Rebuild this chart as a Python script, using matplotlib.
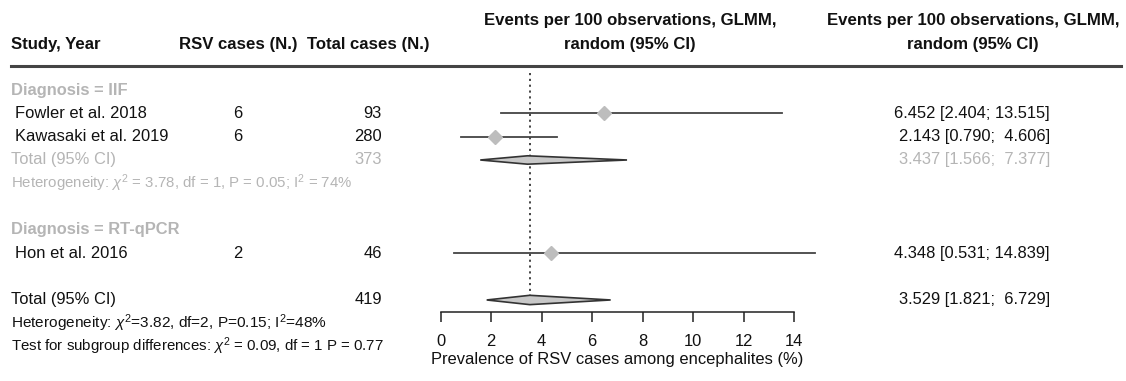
import numpy as np
import matplotlib
matplotlib.use("Agg")
import matplotlib.pyplot as plt
import matplotlib.transforms as mtransforms
from matplotlib.lines import Line2D

plt.rcParams['font.family'] = ['Liberation Sans', 'DejaVu Sans']
plt.rcParams['mathtext.fontset'] = 'custom'
plt.rcParams['mathtext.rm'] = 'Liberation Sans'
plt.rcParams['mathtext.it'] = 'Liberation Sans:italic'

# study data
studies = ["Fowler et al. 2018", "Kawasaki et al. 2019", "Hon et al. 2016"]
rsv_cases = [6, 6, 2]
total_cases = [93, 280, 46]
est = [6.452, 2.143, 4.348]
ci_lo = [2.404, 0.790, 0.531]
ci_hi = [13.515, 4.606, 14.839]
study_rows = [1, 2, 7]

# subgroup IIF pooled
iif_total = 373
iif_est, iif_lo, iif_hi = 3.437, 1.566, 7.377
# overall pooled
all_total = 419
all_est, all_lo, all_hi = 3.529, 1.821, 6.729

xticks = [0, 2, 4, 6, 8, 10, 12, 14]

W, H = 1126, 381
fig = plt.figure(figsize=(W / 100, H / 100), dpi=100)

# rows: pixel y = 90 + 23.33*r
row_px = 23.33
def px2frac_y(p):
    return 1 - p / H

ax_top, ax_bot = 90 - row_px, 311.7
ax_left, ax_right = 440.7, 794.3
ax = fig.add_axes([ax_left / W, px2frac_y(ax_bot), (ax_right - ax_left) / W, (ax_bot - ax_top) / H])
ax.set_xlim(0, 14)
ax.set_ylim((ax_bot - 90) / row_px, -1)
for s in ['top', 'right', 'left']:
    ax.spines[s].set_visible(False)
ax.spines['bottom'].set_color('#222222')
ax.spines['bottom'].set_linewidth(1.1)
ax.set_yticks([])
ax.set_xticks(xticks)
ax.tick_params(axis='x', length=7, width=1.1, color='#222222', pad=9, labelsize=11.9, labelcolor='#111111')
ax.set_xlabel('Prevalence of RSV cases among encephalites (%)', fontsize=11.9, labelpad=2, color='#111111')
ax.patch.set_visible(False)

line_col = '#444444'
grey = '#b5b5b5'
dark = '#111111'

# pooled reference line
ax.plot([all_est, all_est], [-0.74, 9.1], color=line_col, linestyle=(0, (1.1, 1.9)), lw=1.4, clip_on=False)

# study CIs and points
for r, e, lo, hi in zip(study_rows, est, ci_lo, ci_hi):
    ax.plot([lo, hi], [r, r], color=line_col, lw=1.3, clip_on=False, zorder=2)
    ax.plot([e], [r], marker='D', markersize=7.5, color='#bdbdbd', markeredgecolor='#bdbdbd', clip_on=False, zorder=3)

# diamonds
def diamond(y, e, lo, hi, h):
    ax.fill([lo, e, hi, e, lo], [y, y - h, y, y + h, y], facecolor='#c8c8c8', edgecolor='#333333',
            lw=1.2, clip_on=False, zorder=3)

diamond(3, iif_est, iif_lo, iif_hi, 0.18)
diamond(9, all_est, all_lo, all_hi, 0.2)

# text columns: x in pixels (figure), y in rows
tr = mtransforms.blended_transform_factory(fig.transFigure, ax.transData)
fs = 11.9

def txt(xp, r, s, ha='left', color=dark, size=fs, weight='normal'):
    ax.text(xp / W, r, s, transform=tr, ha=ha, va='center', color=color, fontsize=size,
            fontweight=weight, clip_on=False)

# headers
hr = (44 - 90) / row_px
txt(11, hr, 'Study, Year', weight='bold', size=12.1)
txt(238, hr, 'RSV cases (N.)', ha='center', weight='bold', size=12.1)
txt(368, hr, 'Total cases (N.)', ha='center', weight='bold', size=12.1)
hr1 = (21 - 90) / row_px
for xc in (630, 973):
    txt(xc, hr1, 'Events per 100 observations, GLMM,', ha='center', weight='bold', size=12.1)
    txt(xc, hr, 'random (95% CI)', ha='center', weight='bold', size=12.1)

# header rule
fig.add_artist(Line2D([11 / W, 1121 / W], [px2frac_y(65.7)] * 2, color='#444444', lw=2.2))

# subgroup labels
txt(11, 0, 'Diagnosis = IIF', color=grey, weight='bold')
txt(11, 6, 'Diagnosis = RT-qPCR', color=grey, weight='bold')

for r, name, n_rsv, n_tot, e, lo, hi in zip(study_rows, studies, rsv_cases, total_cases, est, ci_lo, ci_hi):
    txt(15, r, name)
    txt(238, r, str(n_rsv), ha='center')
    txt(382, r, str(n_tot), ha='right')
    txt(1050, r, f"{e:.3f} [{lo:.3f}; {hi:.3f}]" if hi >= 10 else f"{e:.3f} [{lo:.3f};  {hi:.3f}]", ha='right')

# IIF subtotal
txt(11, 3, 'Total (95% CI)', color=grey)
txt(382, 3, str(iif_total), ha='right', color=grey)
txt(1050, 3, f"{iif_est:.3f} [{iif_lo:.3f};  {iif_hi:.3f}]", ha='right', color=grey)
txt(11, 4, r'Heterogeneity: $\chi^2$ = 3.78, df = 1, P = 0.05; I$^2$ = 74%', color=grey, size=10.8)

# overall
txt(11, 9, 'Total (95% CI)')
txt(382, 9, str(all_total), ha='right')
txt(1050, 9, f"{all_est:.3f} [{all_lo:.3f};  {all_hi:.3f}]", ha='right')
txt(11, 10, r'Heterogeneity: $\chi^2$=3.82, df=2, P=0.15; I$^2$=48%', size=11.1)
txt(11, 11, r'Test for subgroup differences: $\chi^2$ = 0.09, df = 1 P = 0.77', size=10.8)

fig.savefig('out.png', dpi=100, facecolor='white')
